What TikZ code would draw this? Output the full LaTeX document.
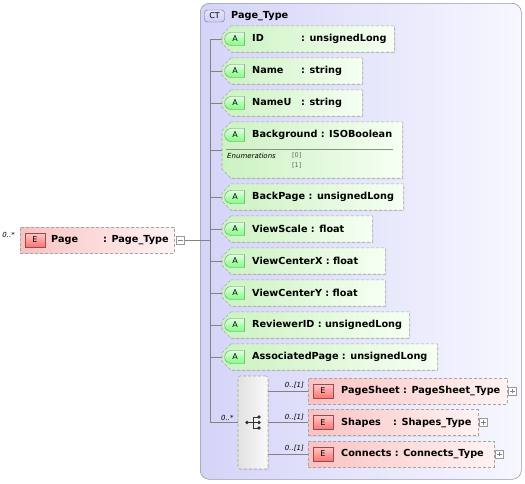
\documentclass[tikz,border=0pt]{standalone}
\usepackage{fontspec}
\setmainfont{DejaVu Sans}
\usepackage{tikz}
\usetikzlibrary{positioning,shapes.misc,shadows}
\definecolor{ctfillL}{RGB}{212,212,248}
\definecolor{ctfillR}{RGB}{247,247,255}
\definecolor{ctline}{RGB}{150,150,172}
\definecolor{attrL}{RGB}{204,242,194}
\definecolor{attrR}{RGB}{246,255,243}
\definecolor{elemL}{RGB}{250,194,194}
\definecolor{elemR}{RGB}{255,243,243}
\definecolor{dashgray}{RGB}{165,165,165}
\definecolor{wire}{RGB}{130,130,130}
\definecolor{seqL}{RGB}{226,226,226}
\definecolor{seqR}{RGB}{249,249,249}
\newlength\namewd
\newcommand\namefield[2][49pt]{\settowidth\namewd{#2\ }\ifdim\namewd<#1\makebox[#1][l]{#2}\else#2\ \fi}

\begin{document}
\begin{tikzpicture}[x=1pt,y=-1pt,
  font=\bfseries\fontsize{9.7}{11}\selectfont,
  ctframe/.style={draw=ctline,line width=0.6pt,rounded corners=9pt,
    left color=ctfillL,right color=ctfillR,inner sep=0pt,anchor=north west},
  ctbadge/.style={draw=black!60!blue!60,rounded corners=3pt,top color=ctfillL!60,bottom color=ctfillL!90!blue!80,
    minimum width=20pt,minimum height=12pt,inner sep=0pt,font=\mdseries\fontsize{8}{8}\selectfont},
  attr/.style={rectangle,minimum height=26pt,inner sep=0pt,anchor=west},
  attrpath/.style={draw=dashgray,dash pattern=on 3pt off 2pt,line width=0.6pt,
    left color=attrL,right color=attrR,
    drop shadow={shadow xshift=1pt,shadow yshift=-1pt,opacity=0.15}},
  elem/.style={rectangle,draw=dashgray,dash pattern=on 3pt off 2pt,line width=0.6pt,
    left color=elemL,right color=elemR,minimum height=26pt,inner sep=0pt,anchor=west,
    drop shadow={shadow xshift=1pt,shadow yshift=-1pt,opacity=0.15}},
  seqbox/.style={draw=dashgray,dash pattern=on 3pt off 2pt,line width=0.6pt,rounded corners=2pt,
    left color=seqL,right color=seqR,minimum width=30pt,minimum height=93pt,inner sep=0pt,
    drop shadow={shadow xshift=1pt,shadow yshift=-1pt,opacity=0.15}},
  abadge/.style={rounded rectangle,rounded rectangle right arc=none,draw=black!70!green!60,
    top color=green!12,bottom color=green!50!white,minimum width=20pt,minimum height=13pt,
    inner sep=0pt,font=\mdseries\fontsize{8}{8}\selectfont},
  ebadge/.style={rectangle,draw=red!40!black!70,top color=red!22,bottom color=red!55!white,
    minimum width=20pt,minimum height=14pt,inner sep=0pt,font=\mdseries\fontsize{8}{8}\selectfont},
  txt/.style={anchor=west,inner sep=0pt},
  card/.style={inner sep=0pt,font=\mdseries\itshape\fontsize{7}{8}\selectfont},
  enum/.style={inner sep=0pt,font=\mdseries\fontsize{6.5}{7}\selectfont},
  toggle/.style={draw=black!40,fill=white,minimum size=8pt,inner sep=0pt},
  wireline/.style={draw=wire,line width=0.6pt}
]
\useasboundingbox (0,0) rectangle (525,483);

% Complex type frame
\node[ctframe,minimum width=321pt,minimum height=476pt] (ct) at (200,3) {};
\node[ctbadge] (ctb) at (214.5,16) {CT};
\node[txt] (cttitle) at (231,16) {Page\_Type};

% Page element
\node[elem,minimum width=154pt] (page) at (20,240) {};
\node[ebadge] (pageE) at ([xshift=15pt]page.west) {E};
\node[txt] (pageT) at ([xshift=31pt]page.west) {\namefield[52pt]{Page}: Page\_Type};
\node[card,anchor=south east] (pagecard) at ([xshift=-5pt,yshift=2pt]page.west) {0..*};
\node[toggle] (pagemin) at (180.5,240) {};
\draw[wireline] ([xshift=2pt]pagemin.west) -- ([xshift=-2pt]pagemin.east);
\coordinate (trunk) at (210,240);

% Attributes
\node[attr,minimum width=172pt] (id) at (222,39) {};
\node[attr,minimum width=140pt] (name) at (222,71) {};
\node[attr,minimum width=140pt] (nameu) at (222,103) {};
\node[attr,minimum width=180pt,minimum height=56pt] (bg) at (222,150) {};
\node[attr,minimum width=181pt] (backpage) at (222,197) {};
\node[attr,minimum width=150pt] (viewscale) at (222,229) {};
\node[attr,minimum width=163pt] (viewcx) at (222,261) {};
\node[attr,minimum width=163pt] (viewcy) at (222,293) {};
\node[attr,minimum width=187pt] (reviewer) at (222,325) {};
\node[attr,minimum width=215pt] (assoc) at (222,357) {};
\foreach \a in {id,name,nameu,bg,backpage,viewscale,viewcx,viewcy,reviewer,assoc}
  \path[attrpath] ([xshift=9pt]\a.north west) -- (\a.north east) -- (\a.south east)
    -- ([xshift=9pt]\a.south west) -- ([yshift=9pt]\a.south west)
    -- ([yshift=-9pt]\a.north west) -- cycle;

\node[abadge] at ([xshift=13pt]id.west) {A};
\node[txt] (idT) at ([xshift=30pt]id.west) {\namefield{ID}: unsignedLong};
\node[abadge] at ([xshift=13pt]name.west) {A};
\node[txt] (nameT) at ([xshift=30pt]name.west) {\namefield{Name}: string};
\node[abadge] at ([xshift=13pt]nameu.west) {A};
\node[txt] (nameuT) at ([xshift=30pt]nameu.west) {\namefield{NameU}: string};
\node[abadge] at ([xshift=13pt,yshift=15pt]bg.west) {A};
\node[txt] (bgT) at ([xshift=30pt,yshift=15pt]bg.west) {\namefield{Background}: ISOBoolean};
\draw[draw=black!45,line width=0.5pt] ([xshift=4pt,yshift=1pt]bg.west) -- ([xshift=-9pt,yshift=1pt]bg.east);
\node[card,anchor=west] (enums) at ([xshift=5pt,yshift=-6pt]bg.west) {Enumerations};
\node[enum,anchor=west,text=black!60] (enum0) at ([xshift=70pt,yshift=-5pt]bg.west) {[0]};
\node[enum,anchor=west,text=black!60] (enum1) at ([xshift=70pt,yshift=-15pt]bg.west) {[1]};
\node[abadge] at ([xshift=13pt]backpage.west) {A};
\node[txt] (backpageT) at ([xshift=30pt]backpage.west) {\namefield{BackPage}: unsignedLong};
\node[abadge] at ([xshift=13pt]viewscale.west) {A};
\node[txt] (viewscaleT) at ([xshift=30pt]viewscale.west) {\namefield{ViewScale}: float};
\node[abadge] at ([xshift=13pt]viewcx.west) {A};
\node[txt] (viewcxT) at ([xshift=30pt]viewcx.west) {\namefield{ViewCenterX}: float};
\node[abadge] at ([xshift=13pt]viewcy.west) {A};
\node[txt] (viewcyT) at ([xshift=30pt]viewcy.west) {\namefield{ViewCenterY}: float};
\node[abadge] at ([xshift=13pt]reviewer.west) {A};
\node[txt] (reviewerT) at ([xshift=30pt]reviewer.west) {\namefield{ReviewerID}: unsignedLong};
\node[abadge] at ([xshift=13pt]assoc.west) {A};
\node[txt] (assocT) at ([xshift=30pt]assoc.west) {\namefield{AssociatedPage}: unsignedLong};

% Sequence of child elements
\node[seqbox] (seq) at (253,422.5) {};
\fill[black!80] ([xshift=-6pt]seq.center) circle[radius=1.8pt];
\draw[black!80,line width=0.8pt] ([xshift=-6pt]seq.center) -- (seq.center)
  ([yshift=5.5pt]seq.center) -- ([yshift=-5.5pt]seq.center)
  ([yshift=5.5pt]seq.center) -- ([xshift=5pt,yshift=5.5pt]seq.center)
  (seq.center) -- ([xshift=5pt]seq.center)
  ([yshift=-5.5pt]seq.center) -- ([xshift=5pt,yshift=-5.5pt]seq.center);
\fill[black!80] ([xshift=6pt,yshift=5.5pt]seq.center) circle[radius=1.8pt];
\fill[black!80] ([xshift=6pt]seq.center) circle[radius=1.8pt];
\fill[black!80] ([xshift=6pt,yshift=-5.5pt]seq.center) circle[radius=1.8pt];
\node[card,anchor=south east] (seqcard) at ([xshift=-4pt,yshift=2pt]seq.west) {0..*};

\node[elem,minimum width=199pt] (sheet) at (308,391) {};
\node[elem,minimum width=170pt] (shapes) at (308,422.5) {};
\node[elem,minimum width=186pt] (conn) at (308,454) {};
\node[ebadge] at ([xshift=15pt]sheet.west) {E};
\node[txt] (sheetT) at ([xshift=33pt]sheet.west) {\namefield[52pt]{PageSheet}: PageSheet\_Type};
\node[ebadge] at ([xshift=15pt]shapes.west) {E};
\node[txt] (shapesT) at ([xshift=33pt]shapes.west) {\namefield[52pt]{Shapes}: Shapes\_Type};
\node[ebadge] at ([xshift=15pt]conn.west) {E};
\node[txt] (connT) at ([xshift=33pt]conn.west) {\namefield[52pt]{Connects}: Connects\_Type};
\node[card,anchor=south east] (sheetcard) at ([xshift=-4pt,yshift=2pt]sheet.west) {0..[1]};
\node[card,anchor=south east] (shapescard) at ([xshift=-4pt,yshift=2pt]shapes.west) {0..[1]};
\node[card,anchor=south east] (conncard) at ([xshift=-4pt,yshift=2pt]conn.west) {0..[1]};
\node[toggle] (sheetplus) at ([xshift=5pt]sheet.east) {};
\node[toggle] (shapesplus) at ([xshift=5pt]shapes.east) {};
\node[toggle] (connplus) at ([xshift=5pt]conn.east) {};
\draw[wireline] ([xshift=2pt]sheetplus.west) -- ([xshift=-2pt]sheetplus.east)
  ([yshift=2pt]sheetplus.south) -- ([yshift=-2pt]sheetplus.north);
\draw[wireline] ([xshift=2pt]shapesplus.west) -- ([xshift=-2pt]shapesplus.east)
  ([yshift=2pt]shapesplus.south) -- ([yshift=-2pt]shapesplus.north);
\draw[wireline] ([xshift=2pt]connplus.west) -- ([xshift=-2pt]connplus.east)
  ([yshift=2pt]connplus.south) -- ([yshift=-2pt]connplus.north);

% Connectors
\draw[wireline] (pagemin.east) -- (trunk);
\draw[wireline] (trunk |- id.west) -- (trunk |- seq.west) -- (seq.west);
\draw[wireline] (trunk |- id.west) -- (id.west);
\draw[wireline] (trunk |- name.west) -- (name.west);
\draw[wireline] (trunk |- nameu.west) -- (nameu.west);
\draw[wireline] (trunk |- bg.west) -- (bg.west);
\draw[wireline] (trunk |- backpage.west) -- (backpage.west);
\draw[wireline] (trunk |- viewscale.west) -- (viewscale.west);
\draw[wireline] (trunk |- viewcx.west) -- (viewcx.west);
\draw[wireline] (trunk |- viewcy.west) -- (viewcy.west);
\draw[wireline] (trunk |- reviewer.west) -- (reviewer.west);
\draw[wireline] (trunk |- assoc.west) -- (assoc.west);
\draw[wireline] (seq.east |- sheet.west) -- (sheet.west);
\draw[wireline] (seq.east |- shapes.west) -- (shapes.west);
\draw[wireline] (seq.east |- conn.west) -- (conn.west);
\end{tikzpicture}
\end{document}
